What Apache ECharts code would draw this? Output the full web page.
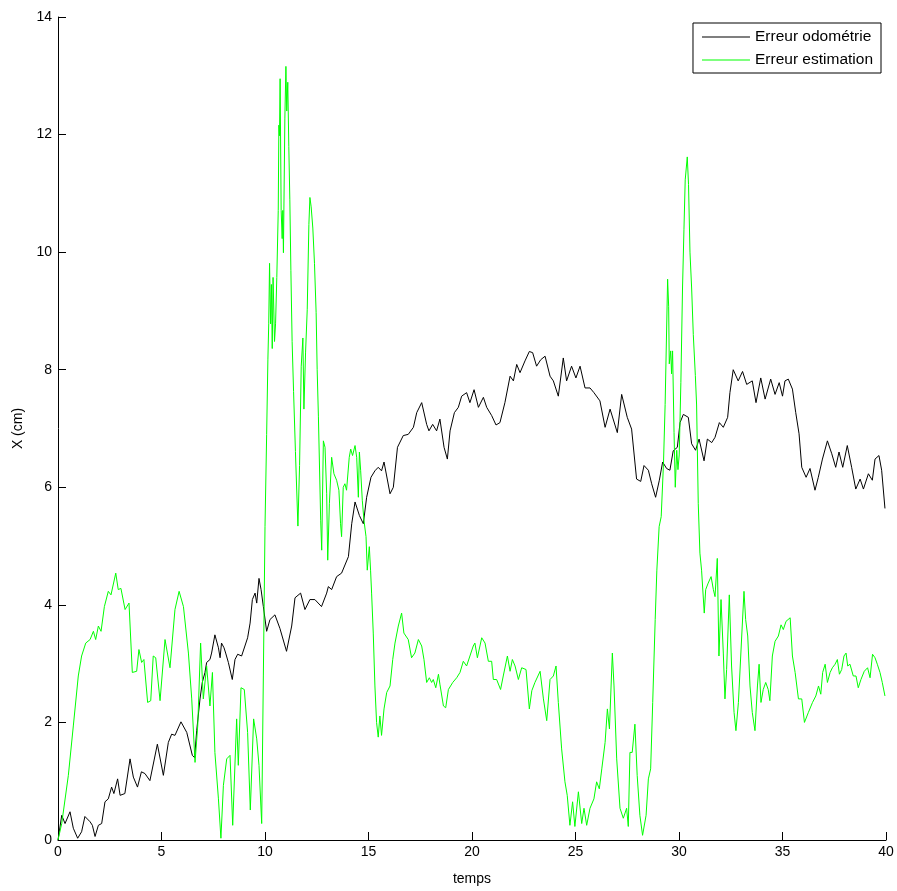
<!DOCTYPE html>
<html>
<head>
<meta charset="utf-8">
<script src="https://cdn.jsdelivr.net/npm/echarts@6/dist/echarts.min.js"></script>
<style>html,body{margin:0;padding:0;background:#fff}#c{width:897px;height:891px}</style>
</head>
<body>
<div id="c"></div>
<script>
var seriesNames = ['Erreur odométrie', 'Erreur estimation'];
var xTicks = [0, 5, 10, 15, 20, 25, 30, 35, 40];
var yTicks = [0, 2, 4, 6, 8, 10, 12, 14];

var odoT = [0,0.18,0.34,0.58,0.74,0.95,1.14,1.3,1.55,1.66,1.79,1.95,2.11,2.27,2.43,2.59,2.7,2.88,3.0,3.23,3.48,3.64,3.84,4.03,4.2,4.44,4.8,5.09,5.33,5.49,5.65,5.94,6.22,6.49,6.6,6.7,6.86,6.97,7.1,7.18,7.34,7.42,7.58,7.75,7.83,7.9,8.02,8.1,8.23,8.42,8.55,8.68,8.87,9.03,9.16,9.28,9.39,9.52,9.6,9.71,9.81,9.92,10.08,10.24,10.48,10.72,11.04,11.29,11.45,11.72,11.93,12.17,12.41,12.73,12.98,13.06,13.22,13.46,13.7,14.03,14.19,14.35,14.56,14.75,14.91,15.12,15.31,15.47,15.63,15.75,16.04,16.2,16.4,16.68,16.92,17.17,17.33,17.57,17.81,17.92,18.1,18.29,18.45,18.65,18.81,18.94,19.15,19.34,19.5,19.74,19.9,20.1,20.31,20.55,20.71,20.95,21.16,21.35,21.59,21.84,22.0,22.16,22.32,22.56,22.77,22.93,23.12,23.32,23.53,23.77,23.93,24.17,24.41,24.57,24.81,25.02,25.22,25.46,25.7,25.89,26.18,26.43,26.67,27.02,27.23,27.5,27.71,27.95,28.15,28.31,28.52,28.68,28.87,29.05,29.21,29.4,29.56,29.72,29.92,30.05,30.21,30.45,30.61,30.8,30.97,31.21,31.37,31.58,31.74,31.95,32.14,32.35,32.46,32.62,32.86,33.07,33.27,33.54,33.72,33.95,34.16,34.43,34.64,34.84,35.0,35.12,35.28,35.48,35.64,35.8,35.93,36.14,36.33,36.57,36.73,36.93,37.17,37.38,37.57,37.73,37.91,38.13,38.34,38.54,38.75,38.91,39.15,39.34,39.47,39.66,39.79,39.95];
var odoX = [0,0.42,0.28,0.48,0.2,0.03,0.14,0.4,0.31,0.25,0.06,0.25,0.28,0.65,0.7,0.9,0.79,1.04,0.76,0.79,1.38,1.07,0.9,1.16,1.13,1.01,1.63,1.1,1.66,1.8,1.78,2.01,1.83,1.44,1.4,1.86,2.4,2.68,2.85,3.02,3.07,3.18,3.49,3.27,3.1,3.35,3.27,3.18,3.02,2.73,3.07,3.16,3.13,3.3,3.44,3.69,4.09,4.2,4.03,4.45,4.26,3.97,3.55,3.75,3.83,3.6,3.21,3.64,4.12,4.2,3.92,4.09,4.09,3.97,4.2,4.31,4.26,4.48,4.54,4.82,5.38,5.75,5.52,5.38,5.83,6.17,6.28,6.34,6.28,6.43,5.89,6.0,6.68,6.88,6.9,7.02,7.27,7.44,7.07,6.96,7.07,6.96,7.16,6.68,6.48,6.96,7.27,7.36,7.55,7.61,7.44,7.66,7.36,7.53,7.36,7.22,7.06,7.1,7.44,7.89,7.81,8.09,7.95,8.15,8.31,8.29,8.06,8.17,8.23,7.89,7.81,7.55,8.2,7.81,8.06,7.86,8.06,7.69,7.69,7.61,7.47,7.02,7.33,6.93,7.58,7.19,6.99,6.14,6.1,6.37,6.29,6.06,5.83,6.12,6.43,6.32,6.29,6.62,6.68,7.1,7.24,7.19,6.74,6.63,6.82,6.45,6.82,6.76,6.85,7.1,7.02,7.19,7.61,8.0,7.81,7.97,7.75,7.81,7.44,7.86,7.5,7.84,7.58,7.78,7.55,7.81,7.84,7.67,7.27,6.91,6.34,6.17,6.32,5.95,6.17,6.48,6.79,6.57,6.34,6.6,6.34,6.71,6.34,5.97,6.14,5.97,6.23,6.12,6.48,6.54,6.29,5.64];

var estT = [0,0.18,0.5,0.74,0.98,1.14,1.34,1.55,1.71,1.82,1.95,2.08,2.24,2.43,2.56,2.79,2.91,3.04,3.24,3.43,3.59,3.8,3.91,4.04,4.15,4.33,4.48,4.6,4.72,4.93,5.17,5.41,5.65,5.85,6.06,6.3,6.46,6.62,6.75,6.89,7.02,7.18,7.34,7.46,7.58,7.75,7.87,7.99,8.15,8.31,8.44,8.63,8.71,8.84,9.0,9.16,9.29,9.45,9.6,9.71,9.84,9.92,10.0,10.08,10.14,10.18,10.22,10.27,10.31,10.35,10.39,10.46,10.51,10.57,10.64,10.67,10.7,10.73,10.78,10.83,10.86,10.89,10.96,11.01,11.05,11.1,11.15,11.2,11.25,11.31,11.38,11.47,11.59,11.67,11.75,11.83,11.88,11.96,12.04,12.12,12.17,12.23,12.31,12.39,12.47,12.52,12.58,12.62,12.69,12.74,12.82,12.9,12.98,13.03,13.11,13.22,13.33,13.46,13.57,13.65,13.7,13.78,13.86,13.94,14.07,14.14,14.23,14.35,14.43,14.51,14.56,14.62,14.7,14.78,14.88,14.94,15.04,15.1,15.15,15.23,15.31,15.39,15.47,15.55,15.63,15.75,15.88,16.04,16.17,16.28,16.44,16.6,16.71,16.92,17.08,17.24,17.41,17.57,17.68,17.81,17.94,18.05,18.13,18.25,18.38,18.45,18.62,18.73,18.86,19.07,19.26,19.42,19.58,19.74,19.9,20.06,20.14,20.26,20.47,20.63,20.79,20.95,21.03,21.19,21.38,21.51,21.71,21.84,21.95,22.08,22.24,22.4,22.61,22.77,22.89,23.04,23.29,23.45,23.61,23.77,23.93,24.06,24.17,24.33,24.49,24.6,24.73,24.86,24.97,25.14,25.3,25.41,25.54,25.7,25.89,26.02,26.15,26.27,26.43,26.54,26.64,26.78,26.86,26.99,27.15,27.31,27.47,27.55,27.63,27.74,27.87,27.98,28.11,28.24,28.41,28.52,28.63,28.73,28.85,28.93,29.04,29.14,29.25,29.33,29.45,29.5,29.53,29.6,29.64,29.69,29.76,29.82,29.89,29.95,30.01,30.09,30.17,30.24,30.3,30.4,30.46,30.53,30.61,30.69,30.79,30.85,30.93,31.01,31.09,31.22,31.29,31.41,31.55,31.66,31.74,31.85,31.93,32.03,32.14,32.22,32.3,32.43,32.54,32.66,32.75,32.87,33.03,33.14,33.22,33.32,33.43,33.54,33.67,33.79,33.87,33.96,34.07,34.19,34.31,34.39,34.51,34.64,34.8,34.93,35.04,35.17,35.37,35.48,35.61,35.77,35.93,36.06,36.25,36.45,36.61,36.74,36.85,36.94,37.06,37.17,37.3,37.41,37.54,37.65,37.75,37.86,37.97,38.07,38.15,38.26,38.42,38.55,38.66,38.79,38.95,39.11,39.23,39.35,39.47,39.58,39.71,39.82,39.95];
var estX = [0,0.28,1.1,1.94,2.79,3.13,3.35,3.41,3.55,3.41,3.64,3.55,3.97,4.23,4.17,4.54,4.26,4.28,3.92,4.03,2.85,2.87,3.24,3.02,3.07,2.34,2.37,3.13,3.1,2.37,3.41,2.93,3.92,4.23,3.97,3.18,2.4,1.32,1.94,3.35,2.4,2.96,2.28,2.85,1.49,0.7,0.03,0.93,1.38,1.44,0.25,2.06,1.27,2.59,2.56,1.83,0.51,2.06,1.72,1.27,0.28,2.79,5.33,6.9,8.18,8.78,9.81,8.78,9.45,8.36,9.57,8.48,8.78,9.57,10.71,12.16,11.98,12.95,10.71,10.23,10.71,9.99,12.28,13.16,12.4,12.89,11.8,10.89,9.69,8.48,7.63,6.61,5.34,6.37,8.06,8.54,7.33,8.3,9.02,10.47,10.93,10.77,10.41,9.81,8.97,8.0,7.21,7.19,5.44,4.93,6.79,6.68,5.89,4.76,5.72,6.51,6.23,6.12,5.95,5.38,5.16,6.0,6.06,5.95,6.51,6.65,6.54,6.71,6.51,5.83,6.6,6.29,5.78,5.44,5.16,4.59,4.99,4.59,4.2,3.52,2.62,2.0,1.75,2.11,1.78,2.23,2.51,2.62,3.07,3.35,3.64,3.86,3.52,3.41,3.1,3.18,3.41,3.3,3.07,2.68,2.76,2.68,2.73,2.59,2.82,2.65,2.28,2.25,2.56,2.68,2.76,2.85,3.04,2.96,3.13,3.3,3.35,3.1,3.44,3.35,3.04,3.04,2.73,2.73,2.56,2.79,3.13,2.87,3.07,2.96,2.73,2.93,2.9,2.23,2.54,2.68,2.87,2.4,2.03,2.73,2.79,2.96,2.34,1.55,0.99,0.76,0.25,0.65,0.23,0.82,0.28,0.54,0.25,0.54,0.7,0.99,0.87,1.21,1.66,2.23,1.89,3.18,2.62,1.38,0.54,0.37,0.54,0.23,1.49,1.49,1.97,1.1,0.42,0.08,0.42,1.04,1.21,2.34,3.75,4.59,5.33,5.5,6.4,7.41,9.54,9.08,8.1,8.32,7.93,8.32,6.93,6.0,6.63,6.3,6.55,7.78,9.39,10.39,11.23,11.62,11.15,10.0,9.39,8.6,7.9,7.4,5.72,4.88,4.59,3.86,4.26,4.37,4.48,4.26,4.14,4.79,3.13,4.09,3.18,2.4,2.9,4.17,2.96,2.17,1.86,2.34,3.47,4.23,3.75,3.47,2.62,2.17,1.86,2.62,2.99,2.34,2.56,2.68,2.56,2.37,3.13,3.38,3.47,3.66,3.58,3.72,3.78,3.13,2.85,2.4,2.4,2.0,2.17,2.34,2.45,2.62,2.48,2.85,2.99,2.68,2.85,2.93,2.99,3.07,2.82,2.9,3.13,3.18,2.96,2.99,2.79,2.79,2.59,2.73,2.87,2.93,2.76,3.16,3.1,2.99,2.85,2.68,2.45];

function zip(a, b) { return a.map(function (v, i) { return [v, b[i]]; }); }

var FONT = '"Liberation Sans", Arial, sans-serif';
var chart = echarts.init(document.getElementById('c'), null, { renderer: 'canvas' });
chart.setOption({
  animation: false,
  backgroundColor: '#fff',
  grid: { left: 58, right: 11, top: 17, bottom: 46, containLabel: false },
  legend: {
    right: 16, top: 23,
    orient: 'vertical',
    data: seriesNames.map(function (n) { return { name: n, icon: 'rect' }; }),
    itemWidth: 48, itemHeight: 1, itemGap: 7,
    padding: [6, 8, 5, 9],
    borderColor: '#000', borderWidth: 1, backgroundColor: '#fff',
    textStyle: { color: '#000', fontSize: 15.5, fontFamily: FONT }
  },
  xAxis: {
    type: 'value', min: xTicks[0], max: xTicks[xTicks.length - 1], interval: 5,
    name: 'temps', nameLocation: 'middle', nameGap: 32,
    nameTextStyle: { color: '#000', fontSize: 14, fontFamily: FONT },
    axisLine: { onZero: false, lineStyle: { color: '#000', width: 1 } },
    axisTick: { inside: true, length: 8, lineStyle: { color: '#000' } },
    axisLabel: { color: '#000', fontSize: 14, fontFamily: FONT, margin: 5 },
    splitLine: { show: false }
  },
  yAxis: {
    type: 'value', min: yTicks[0], max: yTicks[yTicks.length - 1], interval: 2,
    name: 'X (cm)', nameLocation: 'middle', nameGap: 32, nameRotate: 90,
    nameTextStyle: { color: '#000', fontSize: 14, fontFamily: FONT },
    axisLine: { show: true, onZero: false, lineStyle: { color: '#000', width: 1 } },
    axisTick: { show: true, inside: true, length: 8, lineStyle: { color: '#000' } },
    axisLabel: { color: '#000', fontSize: 14, fontFamily: FONT, margin: 6 },
    splitLine: { show: false }
  },
  series: [
    { name: seriesNames[0], type: 'line', data: zip(odoT, odoX), showSymbol: false, symbol: 'none',
      lineStyle: { color: '#000', width: 1 }, itemStyle: { color: '#000' } },
    { name: seriesNames[1], type: 'line', data: zip(estT, estX), showSymbol: false, symbol: 'none',
      lineStyle: { color: '#00ff00', width: 1 }, itemStyle: { color: '#00ff00' } }
  ]
});
</script>
</body>
</html>
